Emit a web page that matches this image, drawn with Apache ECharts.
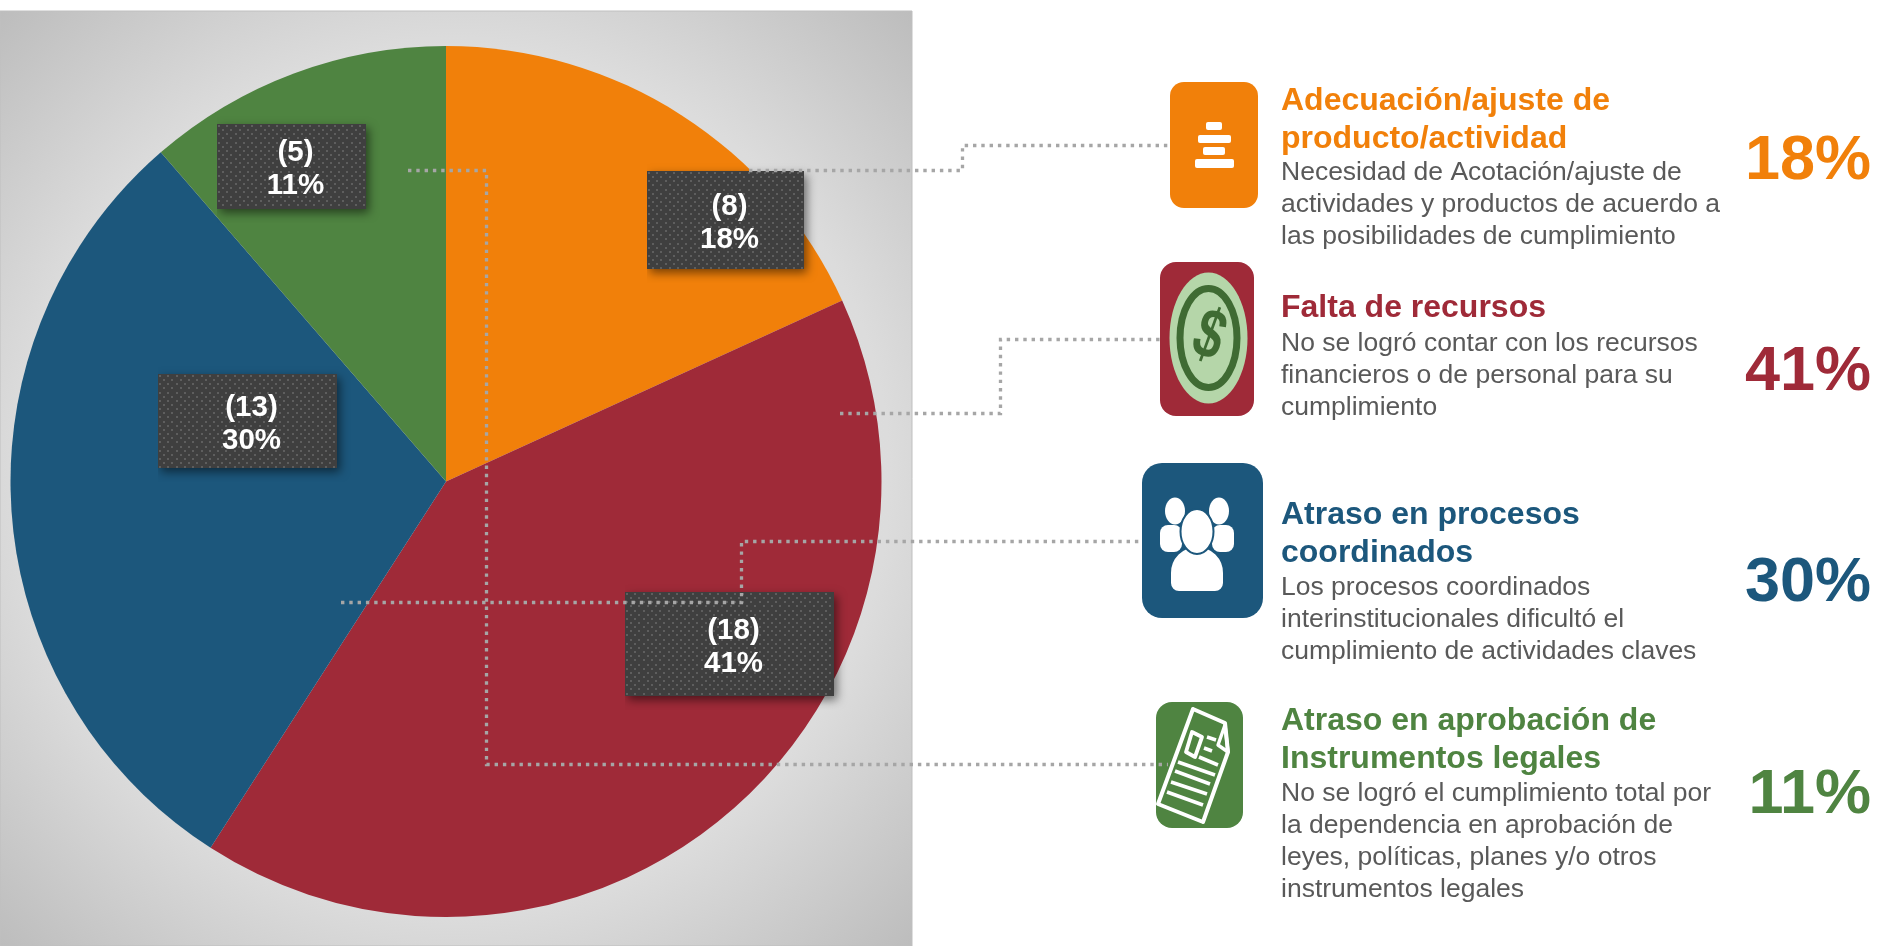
<!DOCTYPE html>
<html lang="es">

<head>
    <meta charset="UTF-8">
    <title>Causas de incumplimiento</title>
    <script src="https://cdn.jsdelivr.net/npm/echarts@6/dist/echarts.min.js"></script>
    <style>
        body { margin: 0; background: #fff; }
        #main { width: 1878px; height: 946px; }
    </style>
</head>

<body>
    <div id="main"></div>

    <script>
        // datos
        const categories = ['Adecuación/ajuste de producto/actividad', 'Falta de recursos', 'Atraso en procesos coordinados', 'Atraso en aprobación de Instrumentos legales'];
        const values = [8, 18, 13, 5];
        const colors = ['#f1800a', '#9f2a38', '#1c577c', '#4f8441'];
        const percentLabels = ['18%', '41%', '30%', '11%'];
        const titleLines = [
            ['Adecuación/ajuste de', 'producto/actividad'],
            ['Falta de recursos'],
            ['Atraso en procesos', 'coordinados'],
            ['Atraso en aprobación de', 'Instrumentos legales']
        ];
        const descLines = [
            ['Necesidad de Acotación/ajuste de', 'actividades y productos de acuerdo a', 'las posibilidades de cumplimiento'],
            ['No se logró contar con los recursos', 'financieros o de personal para su', 'cumplimiento'],
            ['Los procesos coordinados', 'interinstitucionales dificultó el', 'cumplimiento de actividades claves'],
            ['No se logró el cumplimiento total por', 'la dependencia en aprobación de', 'leyes, políticas, planes y/o otros', 'instrumentos legales']
        ];

        // layout de las cajas y bloques de texto
        const boxes = [[647, 171, 157, 98], [625, 592, 209, 104], [158, 374, 179, 94], [217, 124, 149, 85]];
        const shadowPad = 14;
        const topPad = 8;
        const titleY = [109, 315.7, 522.7, 728.7];
        const descY = [179, 350, 594, 800.7];
        const bigY = [177.5, 388.5, 599, 811];
        const connectors = [
            [[749, 170.5], [962.5, 170.5], [962.5, 145.5], [1170, 145.5]],
            [[840, 413.5], [1000.5, 413.5], [1000.5, 339.5], [1160, 339.5]],
            [[341, 602.5], [741.5, 602.5], [741.5, 541.5], [1142, 541.5]],
            [[408, 170.5], [486.5, 170.5], [486.5, 764.5], [1168, 764.5]]
        ];

        // fondo punteado de las cajas, con la sombra incluida
        function dotted(w, h) {
            const c = document.createElement('canvas');
            c.width = w + shadowPad;
            c.height = h + shadowPad + topPad;
            const ctx = c.getContext('2d');
            ctx.translate(0, topPad);
            ctx.shadowColor = 'rgba(0,0,0,0.5)';
            ctx.shadowBlur = 9;
            ctx.shadowOffsetX = 3;
            ctx.shadowOffsetY = 4;
            ctx.fillStyle = '#3f3f3f';
            ctx.fillRect(0, 0, w, h);
            ctx.shadowColor = 'transparent';
            ctx.fillStyle = '#5e5e5e';
            for (let y = 1, r = 0; y < h - 1; y += 4.15, r++) {
                for (let x = r % 2 ? 5 : 1; x < w - 1; x += 8.3) {
                    ctx.fillRect(Math.round(x), Math.round(y), 2, 2);
                }
            }
            return c;
        }

        // texto por linea, y = linea base
        function line(text, x, y, size, color, bold, align) {
            return {
                type: 'text', z: 50, x: x, y: y - size * 0.25,
                style: {
                    text: text, fill: color, align: align || 'left', verticalAlign: 'middle',
                    font: (bold ? 'bold ' : '') + size + 'px "Liberation Sans"'
                }
            };
        }

        function roundBox(x, y, w, h, r, fill) {
            return { type: 'rect', z: 40, shape: { x: x, y: y, width: w, height: h, r: r }, style: { fill: fill } };
        }

        function ell(cx, cy, rx, ry, fill, stroke, lw) {
            return { type: 'ellipse', z: 41, shape: { cx: cx, cy: cy, rx: rx, ry: ry }, style: { fill: fill, stroke: stroke, lineWidth: lw || 0 } };
        }

        function seg(x1, y1, x2, y2, lw) {
            return { type: 'line', z: 46, shape: { x1: x1, y1: y1, x2: x2, y2: y2 }, style: { stroke: '#ffffff', lineWidth: lw || 3.6 } };
        }

        function poly(points, lw) {
            return { type: 'polygon', z: 46, shape: { points: points }, style: { fill: 'transparent', stroke: '#ffffff', lineWidth: lw, lineJoin: 'round' } };
        }

        const white = '#ffffff';
        const icons = [
            roundBox(1170, 82, 88, 126, 14, colors[0]),
            roundBox(1206, 122, 16, 8, 2, white),
            roundBox(1198, 135, 33, 8, 2, white),
            roundBox(1203, 147, 22, 8, 2, white),
            roundBox(1195, 159, 39, 9, 2, white),

            roundBox(1160, 262, 94, 154, 16, colors[1]),
            ell(1208.5, 338, 39, 65.5, '#b5d6a9'),
            ell(1208.5, 338, 28.5, 49.5, 'transparent', '#3f6b33', 7),
            {
                type: 'text', z: 42, x: 1208.5, y: 338, scaleX: 0.95, scaleY: 1.3, rotation: -0.35,
                style: { text: '$', fill: '#3f6b33', align: 'center', verticalAlign: 'middle', font: 'bold 54px "Liberation Sans"' }
            },

            roundBox(1142, 463, 121, 155, 20, colors[2]),
            ell(1175, 511, 10, 13.5, white),
            ell(1219, 511, 10, 13.5, white),
            roundBox(1160, 525, 22, 27, 8, white),
            roundBox(1212, 525, 22, 27, 8, white),
            { type: 'rect', z: 41, shape: { x: 1170, y: 546, width: 54, height: 46, r: [27, 27, 9, 9] }, style: { fill: white, stroke: colors[2], lineWidth: 2 } },
            { type: 'ellipse', z: 42, shape: { cx: 1197, cy: 531.5, rx: 16.5, ry: 22.5 }, style: { fill: white, stroke: colors[2], lineWidth: 2 } },

            roundBox(1156, 702, 87, 126, 16, colors[3]),
            poly([[1193, 709], [1225, 723], [1228, 752], [1203, 822], [1158, 804]], 4),
            poly([[1225, 725], [1218, 745], [1228, 752]], 3.4),
            seg(1178, 762, 1215, 775),
            seg(1175, 771, 1210, 784),
            seg(1171, 782, 1207, 794),
            seg(1167, 792, 1203, 805),
            seg(1199, 757, 1218, 765),
            seg(1204, 748, 1212, 751),
            seg(1207, 737, 1216, 740),
            poly([[1192, 732], [1202, 737], [1195, 757], [1186, 752]], 3.8)
        ];

        const texts = [];
        titleLines.forEach((rows, i) => {
            rows.forEach((t, j) => texts.push(line(t, 1281, titleY[i] + j * 38, 32, colors[i], true)));
            descLines[i].forEach((t, j) => texts.push(line(t, 1281, descY[i] + j * 32, 26.5, '#595959', false)));
            texts.push(line(percentLabels[i], 1871, bigY[i], 63, colors[i], true, 'right'));
        });

        const lines = connectors.map(pts => ({
            type: 'polyline', z: 45, shape: { points: pts },
            style: { fill: 'none', stroke: '#a6a6a6', lineWidth: 3.3, lineDash: [3.4, 4.9] }
        }));

        const panel = [{
            type: 'rect', z: -10,
            shape: { x: 0, y: 11, width: 912, height: 935 },
            style: {
                fill: new echarts.graphic.RadialGradient(0.5, 0.5, 0.72, [
                    { offset: 0, color: '#e8e8e8' },
                    { offset: 0.66, color: '#dcdcdc' },
                    { offset: 1, color: '#bcbcbc' }
                ]),
                stroke: '#bfbfbf', lineWidth: 1
            }
        }];

        const myChart = echarts.init(document.getElementById('main'));

        const option = {
            animation: false,
            textStyle: { fontFamily: '"Liberation Sans"' },
            graphic: { elements: panel.concat(lines, icons, texts) },
            series: [{
                type: 'pie',
                center: [446, 481.5],
                radius: [0, 435.5],
                startAngle: 90,
                clockwise: true,
                percentPrecision: 0,
                data: categories.map((name, i) => ({
                    name: name,
                    value: values[i],
                    itemStyle: { color: colors[i] },
                    label: {
                        width: boxes[i][2] + shadowPad - 6,
                        height: boxes[i][3] + shadowPad + topPad,
                        padding: [0, 6, 0, 0],
                        backgroundColor: { image: dotted(boxes[i][2], boxes[i][3]) }
                    }
                })),
                label: {
                    show: true,
                    position: 'inside',
                    formatter: p => `(${p.value})\n${p.percent}%`,
                    color: '#fff',
                    fontWeight: 'bold',
                    fontSize: 29.5,
                    lineHeight: 33,
                    align: 'center',
                    verticalAlign: 'middle'
                },
                labelLine: { show: false },
                labelLayout: p => ({
                    x: boxes[p.dataIndex][0] + (boxes[p.dataIndex][2] + shadowPad) / 2,
                    y: boxes[p.dataIndex][1] + (boxes[p.dataIndex][3] + shadowPad - topPad) / 2,
                    align: 'center',
                    verticalAlign: 'middle'
                }),
                emphasis: { disabled: true }
            }]
        };

        myChart.setOption(option);
    </script>
</body>

</html>
